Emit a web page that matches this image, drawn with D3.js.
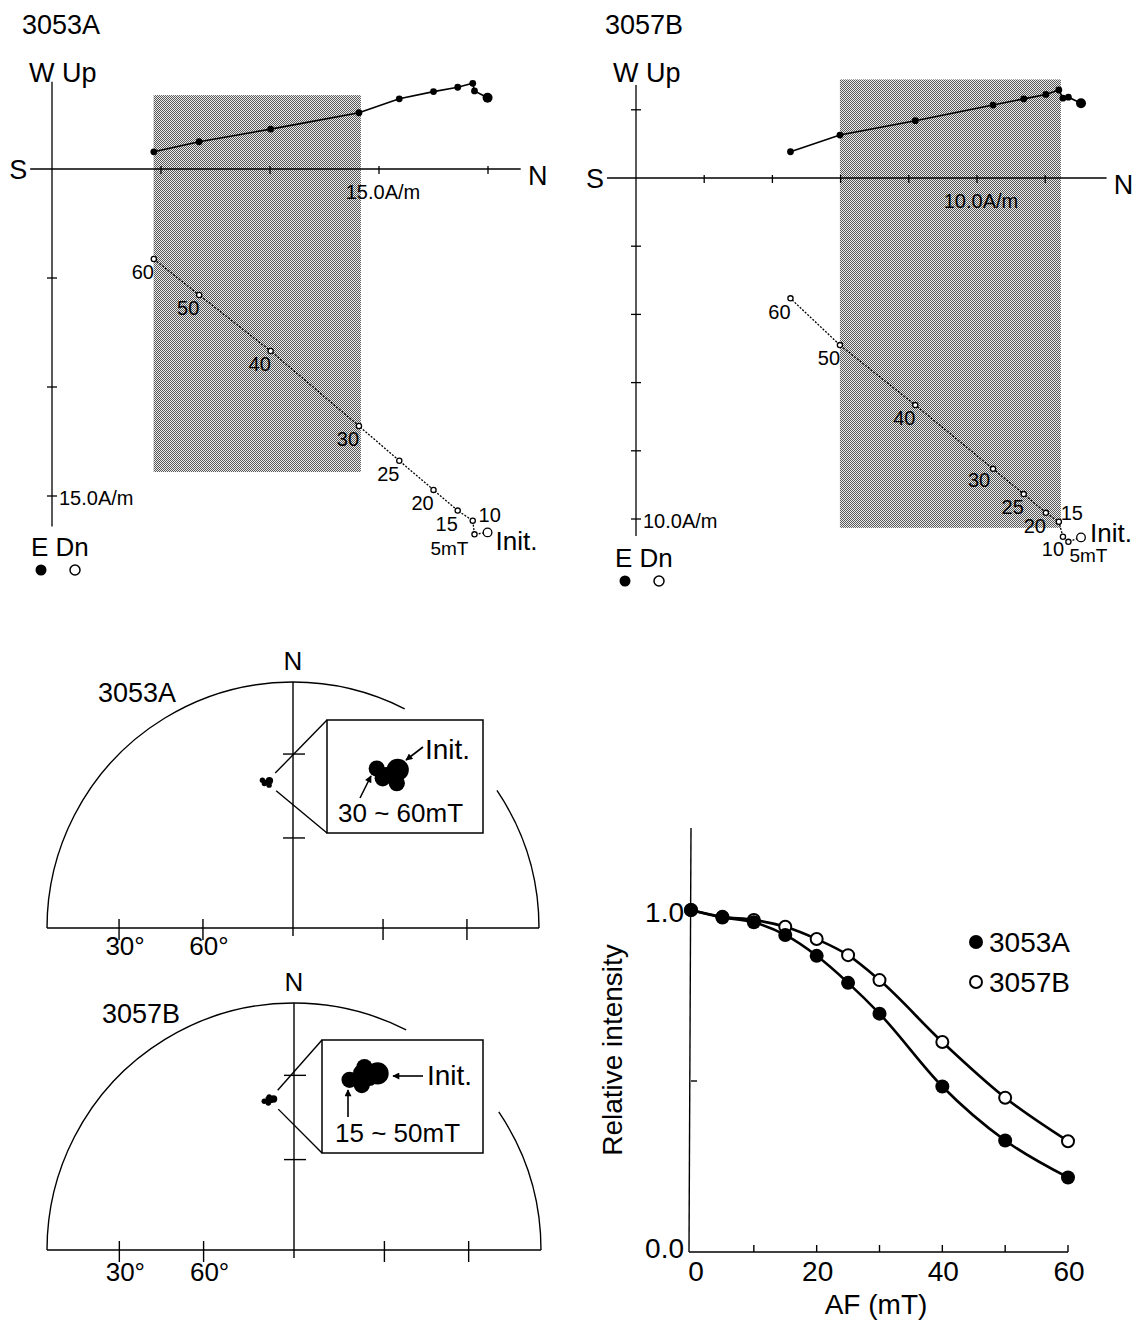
<!DOCTYPE html>
<html>
<head>
<meta charset="utf-8">
<script src="https://cdn.jsdelivr.net/npm/d3@7"></script>
<style>
  body { margin: 0; background: #fff; }
  svg text { font-family: "Liberation Sans", Arial, Helvetica, sans-serif; fill: #000; }
</style>
</head>
<body>
<div id="wrapper"></div>
<script>
// AF demagnetization steps (mT), 0 = initial NRM
const steps = [0, 5, 10, 15, 20, 25, 30, 40, 50, 60]

// 3053A orthogonal components (A/m)
const north3053A = [19.98, 19.38, 19.30, 18.61, 17.50, 15.93, 14.08, 10.03, 6.75, 4.67]
const west3053A  = [3.27, 3.58, 3.93, 3.75, 3.55, 3.22, 2.58, 1.83, 1.25, 0.79]
const down3053A  = [16.67, 16.76, 16.13, 15.67, 14.72, 13.38, 11.79, 8.35, 5.78, 4.13]
// fitted interval box: north min, north max, west max, down max
const shade3053A = [4.66, 14.17, 3.39, 13.9]

// 3057B orthogonal components (A/m)
const north3057B = [13.05, 12.68, 12.52, 12.40, 12.02, 11.37, 10.47, 8.19, 5.98, 4.53]
const west3057B  = [2.19, 2.37, 2.34, 2.58, 2.45, 2.32, 2.14, 1.68, 1.26, 0.77]
const down3057B  = [10.54, 10.67, 10.52, 10.08, 9.82, 9.27, 8.53, 6.66, 4.90, 3.53]
const shade3057B = [5.98, 12.46, 2.89, 10.26]

// directions on equal-area net
const dirSteps3053A = ["Init.", "30", "40", "50", "60"]
const dec3053A = [350.9, 350.5, 349.3, 348.3, 348.8]
const inc3053A = [39.2, 40.8, 39.6, 38.6, 39.9]
const dirSteps3057B = ["Init.", "15", "20", "30", "40", "50"]
const dec3057B = [352.3, 348.7, 350.1, 350.8, 351.2, 350.3]
const inc3057B = [38.3, 38.5, 39.4, 37.3, 38.7, 37.9]

// relative intensity vs AF
const afSteps = [0, 5, 10, 15, 20, 25, 30, 40, 50, 60]
const intensity3053A = [1.0, 0.978, 0.964, 0.927, 0.866, 0.787, 0.697, 0.484, 0.326, 0.218]
const intensity3057B = [1.0, 0.98, 0.971, 0.951, 0.915, 0.868, 0.795, 0.614, 0.451, 0.324]
const afTicks = [0, 20, 40, 60]
const intensityTicks = [0.0, 1.0]

const svg = d3.select("#wrapper").append("svg")
    .attr("width", 1143)
    .attr("height", 1324)

const defs = svg.append("defs")
const pat = defs.append("pattern")
    .attr("id", "dots")
    .attr("width", 2).attr("height", 2)
    .attr("patternUnits", "userSpaceOnUse")
pat.append("rect").attr("width", 2).attr("height", 2).attr("fill", "#ececec")
pat.append("rect").attr("width", 1).attr("height", 1).attr("fill", "#575757")
pat.append("rect").attr("x", 1).attr("y", 1).attr("width", 1).attr("height", 1).attr("fill", "#575757")

defs.append("marker")
    .attr("id", "arrow")
    .attr("viewBox", "0 0 10 10")
    .attr("refX", 9).attr("refY", 5)
    .attr("markerWidth", 9).attr("markerHeight", 7)
    .attr("markerUnits", "userSpaceOnUse")
    .attr("orient", "auto")
  .append("path")
    .attr("d", "M0,0 L10,5 L0,10 Z")

// text placed by the vertical centre of its capitals
function addText(g, str, x, yc, size, anchor = "start") {
    return g.append("text")
        .attr("x", x)
        .attr("y", yc + size * 0.358)
        .attr("font-size", size)
        .attr("text-anchor", anchor)
        .text(str)
}

// ---------- orthogonal (Zijderveld) plots ----------
function drawZijderveld(cfg) {
    const g = svg.append("g")
    const xN = d3.scaleLinear().domain([0, 10]).range([cfg.ox, cfg.ox + 10 * cfg.unit])
    const yV = d3.scaleLinear().domain([0, 10]).range([cfg.oy, cfg.oy + 10 * cfg.unit])

    g.append("rect")
        .attr("x", xN(cfg.shade[0]))
        .attr("width", xN(cfg.shade[1]) - xN(cfg.shade[0]))
        .attr("y", yV(-cfg.shade[2]))
        .attr("height", yV(cfg.shade[3]) - yV(-cfg.shade[2]))
        .attr("fill", "url(#dots)")

    const axes = g.append("g").attr("stroke", "#000").attr("stroke-width", 1.3)
    axes.append("line")
        .attr("x1", xN(cfg.nExtent[0])).attr("x2", xN(cfg.nExtent[1]))
        .attr("y1", yV(0)).attr("y2", yV(0))
    axes.append("line")
        .attr("x1", xN(0)).attr("x2", xN(0))
        .attr("y1", yV(-cfg.vExtent[0])).attr("y2", yV(cfg.vExtent[1]))

    axes.selectAll(".nt")
        .data(d3.range(cfg.step, cfg.nExtent[1], cfg.step))
        .join("line")
        .attr("x1", d => xN(d)).attr("x2", d => xN(d))
        .attr("y1", yV(0) - 3).attr("y2", yV(0) + 5)
    const vt = d3.range(cfg.step, cfg.vExtent[1], cfg.step)
        .concat(d3.range(cfg.step, cfg.vExtent[0], cfg.step).map(d => -d))
    axes.selectAll(".vt")
        .data(vt)
        .join("line")
        .attr("x1", xN(0) - 5).attr("x2", xN(0) + 5)
        .attr("y1", d => yV(d)).attr("y2", d => yV(d))

    addText(g, cfg.title, cfg.titleX, 24, 27)
    addText(g, "W Up", xN(0) - 23, 72, 27)
    addText(g, "S", xN(cfg.nExtent[0]) - 12, yV(0), 27, "middle")
    addText(g, "N", xN(cfg.nExtent[1]) + 17, yV(0) + 6, 27, "middle")
    addText(g, cfg.scaleLabel, xN(cfg.scaleVal) + 4, yV(0) + 23, 20, "middle")
    addText(g, cfg.scaleLabel, xN(0) + 7, yV(cfg.scaleVal) + 2, 20, "start")

    const idx = d3.range(steps.length)
    const hPts = idx.map(i => [xN(cfg.north[i]), yV(-cfg.west[i])])
    const vPts = idx.map(i => [xN(cfg.north[i]), yV(cfg.down[i])])

    g.append("path")
        .attr("d", d3.line()(hPts))
        .attr("fill", "none").attr("stroke", "#000").attr("stroke-width", 1.6)
    g.append("path")
        .attr("d", d3.line()(vPts))
        .attr("fill", "none").attr("stroke", "#000").attr("stroke-width", 1.3)
        .attr("stroke-dasharray", "2,1.5")

    g.selectAll(".hp")
        .data(idx)
        .join("circle")
        .attr("cx", i => hPts[i][0]).attr("cy", i => hPts[i][1])
        .attr("r", i => steps[i] === 0 ? 5 : 3.4)
        .attr("fill", "#000")
    g.selectAll(".vp")
        .data(idx)
        .join("circle")
        .attr("cx", i => vPts[i][0]).attr("cy", i => vPts[i][1])
        .attr("r", i => steps[i] === 0 ? 4.3 : 2.6)
        .attr("fill", "#fff").attr("stroke", "#000").attr("stroke-width", 1.3)

    idx.forEach(i => {
        const s = steps[i]
        const o = cfg.labelOffsets[s] || [-11, 13, "middle"]
        const txt = s === 0 ? "Init." : (s === 5 ? "5mT" : String(s))
        const size = s === 0 ? 26 : (s === 5 ? 19 : 20)
        addText(g, txt, vPts[i][0] + o[0], vPts[i][1] + o[1], size, o[2] || "middle")
    })

    // legend E / Dn
    addText(g, "E Dn", xN(0) - 21, cfg.legendY, 26)
    g.append("circle").attr("cx", xN(0) - 11).attr("cy", cfg.legendY + 23).attr("r", 5.5).attr("fill", "#000")
    g.append("circle").attr("cx", xN(0) + 23).attr("cy", cfg.legendY + 23).attr("r", 5)
        .attr("fill", "#fff").attr("stroke", "#000").attr("stroke-width", 1.5)
}

drawZijderveld({
    title: "3053A", titleX: 22,
    ox: 52, oy: 169, unit: 21.8, step: 5,
    nExtent: [-1.0, 21.5], vExtent: [4.0, 16.4],
    north: north3053A, west: west3053A, down: down3053A, shade: shade3053A,
    scaleVal: 15, scaleLabel: "15.0A/m", legendY: 547,
    labelOffsets: { 10: [17, -6], 5: [-6, 14, "end"], 0: [8, 8, "start"] }
})

drawZijderveld({
    title: "3057B", titleX: 605,
    ox: 636, oy: 178, unit: 34.1, step: 2,
    nExtent: [-0.85, 13.8], vExtent: [2.73, 10.5],
    north: north3057B, west: west3057B, down: down3057B, shade: shade3057B,
    scaleVal: 10, scaleLabel: "10.0A/m", legendY: 558,
    labelOffsets: { 30: [-14, 11], 15: [13, -9], 10: [-10, 12], 5: [1, 13, "start"], 0: [9, -5, "start"] }
})

// ---------- equal-area nets ----------
function drawNet(cfg) {
    const g = svg.append("g")
    const radial = d3.scaleLinear().domain([0, 1]).range([0, cfg.R])
    const project = (dec, inc) => {
        const r = radial(Math.SQRT2 * Math.sin((90 - inc) / 2 * Math.PI / 180))
        const a = dec * Math.PI / 180
        return [cfg.cx + r * Math.sin(a), cfg.cy - r * Math.cos(a)]
    }
    const rad = deg => (deg - 90) * Math.PI / 180

    const frame = g.append("g").attr("stroke", "#000").attr("stroke-width", 1.4).attr("fill", "none")
    const arc1 = d3.path()
    arc1.arc(cfg.cx, cfg.cy, cfg.R, rad(-90), rad(27))
    frame.append("path").attr("d", arc1.toString())
    const arc2 = d3.path()
    arc2.arc(cfg.cx, cfg.cy, cfg.R, rad(56), rad(90))
    frame.append("path").attr("d", arc2.toString())
    frame.append("line")
        .attr("x1", cfg.cx - cfg.R).attr("x2", cfg.cx + cfg.R)
        .attr("y1", cfg.cy).attr("y2", cfg.cy)
    frame.append("line")
        .attr("x1", cfg.cx).attr("x2", cfg.cx)
        .attr("y1", cfg.cy - cfg.R).attr("y2", cfg.cy + 8)

    const tickInc = [30, 60]
    tickInc.forEach(inc => {
        const [, ty] = project(0, inc)
        frame.append("line").attr("x1", cfg.cx - 10).attr("x2", cfg.cx + 12).attr("y1", ty).attr("y2", ty)
        ;[270, 90].forEach(dec => {
            const [tx] = project(dec, inc)
            frame.append("line").attr("x1", tx).attr("x2", tx).attr("y1", cfg.cy - 9).attr("y2", cfg.cy + 12)
        })
        const [lx] = project(270, inc)
        addText(g, inc + "°", lx + 6, cfg.cy + cfg.degDy, 26, "middle")
    })

    addText(g, "N", cfg.cx, cfg.cy - cfg.R - 21, 26, "middle")
    addText(g, cfg.title, cfg.titleX, cfg.cy - cfg.R + 10, 27)

    const pts = cfg.dec.map((d, i) => project(d, cfg.inc[i]))
    const cen = [d3.mean(pts, p => p[0]), d3.mean(pts, p => p[1])]
    const dotR = i => cfg.steps[i] === "Init." ? 3.7 : 2.7

    g.selectAll(".dp")
        .data(pts)
        .join("circle")
        .attr("cx", p => p[0]).attr("cy", p => p[1])
        .attr("r", (p, i) => dotR(i))

    // magnified inset
    const box = cfg.box
    g.append("rect")
        .attr("x", box[0]).attr("y", box[1])
        .attr("width", box[2] - box[0]).attr("height", box[3] - box[1])
        .attr("fill", "#fff").attr("stroke", "#000").attr("stroke-width", 1.5)
    ;[[box[0], box[1]], [box[0], box[3]]].forEach(c => {
        const dx = c[0] - cen[0], dy = c[1] - cen[1]
        const len = Math.hypot(dx, dy)
        g.append("line")
            .attr("x1", c[0]).attr("y1", c[1])
            .attr("x2", cen[0] + dx / len * 13).attr("y2", cen[1] + dy / len * 13)
            .attr("stroke", "#000").attr("stroke-width", 1.4)
    })
    const mag = 3
    const magX = d3.scaleLinear().domain([cen[0], cen[0] + 1]).range([cfg.anchor[0], cfg.anchor[0] + mag])
    const magY = d3.scaleLinear().domain([cen[1], cen[1] + 1]).range([cfg.anchor[1], cfg.anchor[1] + mag])
    g.selectAll(".ip")
        .data(pts)
        .join("circle")
        .attr("cx", p => magX(p[0])).attr("cy", p => magY(p[1]))
        .attr("r", (p, i) => dotR(i) * mag)

    addText(g, "Init.", cfg.initText[0], cfg.initText[1], 28)
    addText(g, cfg.rangeLabel, cfg.rangeText[0], cfg.rangeText[1], 26)
    cfg.arrows.forEach(a => {
        g.append("line")
            .attr("x1", a[0]).attr("y1", a[1]).attr("x2", a[2]).attr("y2", a[3])
            .attr("stroke", "#000").attr("stroke-width", 1.6)
            .attr("marker-end", "url(#arrow)")
    })
}

drawNet({
    title: "3053A", titleX: 98,
    cx: 293, cy: 928, R: 246, degDy: 18,
    steps: dirSteps3053A, dec: dec3053A, inc: inc3053A,
    box: [327, 720, 483, 833], anchor: [388, 775],
    initText: [425, 749], rangeLabel: "30 ~ 60mT", rangeText: [338, 813],
    arrows: [[423, 747, 406, 760], [360, 798, 371, 776]]
})

drawNet({
    title: "3057B", titleX: 102,
    cx: 294, cy: 1250, R: 247, degDy: 22,
    steps: dirSteps3057B, dec: dec3057B, inc: inc3057B,
    box: [322, 1040, 483, 1153], anchor: [364, 1076],
    initText: [427, 1075], rangeLabel: "15 ~ 50mT", rangeText: [335, 1133],
    arrows: [[423, 1076, 393, 1076], [348, 1117, 348, 1090]]
})

// ---------- relative intensity decay ----------
{
    const g = svg.append("g")
    const x = d3.scaleLinear().domain([0, 60]).range([691, 1068])
    const y = d3.scaleLinear().domain([0, 1]).range([1252, 910])

    const ax = g.append("g").attr("stroke", "#000").attr("stroke-width", 1.4)
    ax.append("line").attr("x1", x(0) - 2).attr("x2", x(60)).attr("y1", y(0)).attr("y2", y(0))
    ax.append("line").attr("x1", x(0) - 2).attr("x2", x(0)).attr("y1", y(0)).attr("y2", y(1.24))
    ax.selectAll(".xt")
        .data(d3.range(10, 61, 10))
        .join("line")
        .attr("x1", d => x(d)).attr("x2", d => x(d))
        .attr("y1", y(0)).attr("y2", y(0) - 7)
    ax.append("line").attr("x1", x(0)).attr("x2", x(0) + 6).attr("y1", y(0.5)).attr("y2", y(0.5))

    afTicks.forEach(t => addText(g, String(t), x(t) + (t === 0 ? 5 : 1), 1271, 28, "middle"))
    intensityTicks.forEach(t => addText(g, t.toFixed(1), 684, y(t) + (t === 0 ? -4 : 2), 28, "end"))

    addText(g, "AF (mT)", 876, 1304, 28, "middle")
    g.append("text")
        .attr("transform", "translate(622,1050) rotate(-90)")
        .attr("font-size", 28)
        .attr("text-anchor", "middle")
        .text("Relative intensity")

    const line = d3.line().x((d, i) => x(afSteps[i])).y(d => y(d)).curve(d3.curveMonotoneX)
    g.append("path").attr("d", line(intensity3057B))
        .attr("fill", "none").attr("stroke", "#000").attr("stroke-width", 2.6)
    g.append("path").attr("d", line(intensity3053A))
        .attr("fill", "none").attr("stroke", "#000").attr("stroke-width", 2.6)

    g.selectAll(".ob")
        .data(intensity3057B)
        .join("circle")
        .attr("cx", (d, i) => x(afSteps[i])).attr("cy", d => y(d))
        .attr("r", 6).attr("fill", "#fff").attr("stroke", "#000").attr("stroke-width", 2)
    g.selectAll(".fa")
        .data(intensity3053A)
        .join("circle")
        .attr("cx", (d, i) => x(afSteps[i])).attr("cy", d => y(d))
        .attr("r", 7).attr("fill", "#000")

    g.append("circle").attr("cx", 976).attr("cy", 942).attr("r", 7).attr("fill", "#000")
    addText(g, "3053A", 989, 942, 28)
    g.append("circle").attr("cx", 976).attr("cy", 982).attr("r", 6)
        .attr("fill", "#fff").attr("stroke", "#000").attr("stroke-width", 2)
    addText(g, "3057B", 989, 982, 28)
}
</script>
</body>
</html>
